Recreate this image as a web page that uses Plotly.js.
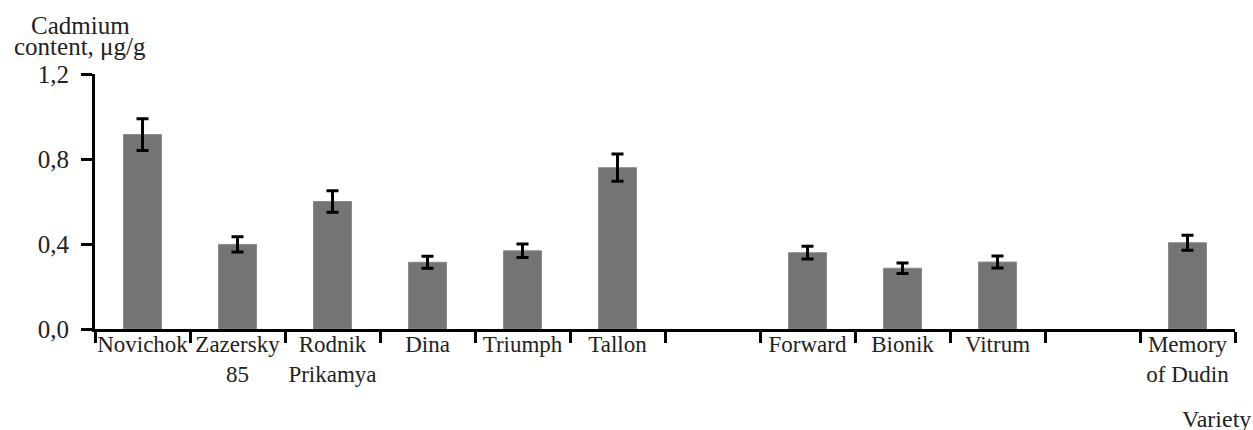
<!DOCTYPE html>
<html>
<head>
<meta charset="utf-8">
<script src="https://cdn.plot.ly/plotly-3.0.1.min.js"></script>
<style>html,body{margin:0;padding:0;background:#fff;}#chart{width:1253px;height:430px;}</style>
</head>
<body>
<div id="chart"></div>
<script>
// Categories (blank slots are empty gaps on the axis)
var categories = ['Novichok', 'Zazersky<br>85', 'Rodnik<br>Prikamya', 'Dina', 'Triumph', 'Tallon', ' ',
                  'Forward', 'Bionik', 'Vitrum', '  ', 'Memory<br>of Dudin'];
// Cadmium content, µg/g
var cadmium = [0.915, 0.398, 0.600, 0.314, 0.368, 0.759, null, 0.359, 0.286, 0.315, null, 0.406];
// Error (±)
var errors = [0.075, 0.036, 0.051, 0.028, 0.032, 0.064, null, 0.030, 0.025, 0.028, null, 0.035];
var yTicks = [0, 0.4, 0.8, 1.2];

var FONT = 'Liberation Serif, Times New Roman, serif';

// plot area in pixels: x 95..1235, y 74..329
var L = 95, R = 1235, T = 74, B = 329;
function px(x) { return (x - L) / (R - L); }
function py(y) { return (B - y) / (B - T); }

var trace = {
  type: 'bar',
  x: categories,
  y: cadmium,
  marker: { color: '#747476', line: { color: '#8a8a8c', width: 1 } },
  error_y: { type: 'data', array: errors, visible: true, color: '#000', thickness: 3, width: 6 },
  hoverinfo: 'skip'
};

var layout = {
  width: 1253, height: 430,
  margin: { l: L, r: 1253 - R, t: T, b: 430 - B, pad: 0 },
  paper_bgcolor: '#fff', plot_bgcolor: '#fff',
  separators: ', ',
  showlegend: false,
  bargap: 0.6,
  font: { family: FONT, size: 23, color: '#222' },
  xaxis: {
    type: 'category',
    categoryorder: 'array', categoryarray: categories,
    range: [-0.5, categories.length - 0.5],
    tickson: 'boundaries',
    tickangle: 0,
    ticks: 'outside', ticklen: 11, tickwidth: 3, tickcolor: '#000',
    showline: true, linecolor: '#000', linewidth: 3,
    showgrid: false, zeroline: false,
    tickfont: { family: FONT, size: 23, color: '#222' },
    ticklabelstandoff: -8,
    fixedrange: true
  },
  yaxis: {
    range: [0, 1.2],
    tickvals: yTicks,
    tickformat: '.1f',
    ticks: 'outside', ticklen: 11, tickwidth: 3, tickcolor: '#000',
    showline: true, linecolor: '#000', linewidth: 3,
    showgrid: false, zeroline: false,
    tickfont: { family: FONT, size: 25, color: '#222' },
    ticklabelstandoff: 7,
    fixedrange: true
  },
  annotations: [
    { text: 'Cadmium', xref: 'paper', yref: 'paper', x: px(80), y: py(25), xanchor: 'center', yanchor: 'middle',
      showarrow: false, font: { family: FONT, size: 25, color: '#222' } },
    { text: 'content, μg/g', xref: 'paper', yref: 'paper', x: px(80), y: py(47), xanchor: 'center', yanchor: 'middle',
      showarrow: false, font: { family: FONT, size: 25, color: '#222' } },
    { text: 'Variety', xref: 'paper', yref: 'paper', x: px(1253), y: py(419), xanchor: 'right', yanchor: 'middle',
      showarrow: false, font: { family: FONT, size: 24, color: '#222' } }
  ]
};

Plotly.newPlot('chart', [trace], layout, { displayModeBar: false, staticPlot: true });
</script>
</body>
</html>
